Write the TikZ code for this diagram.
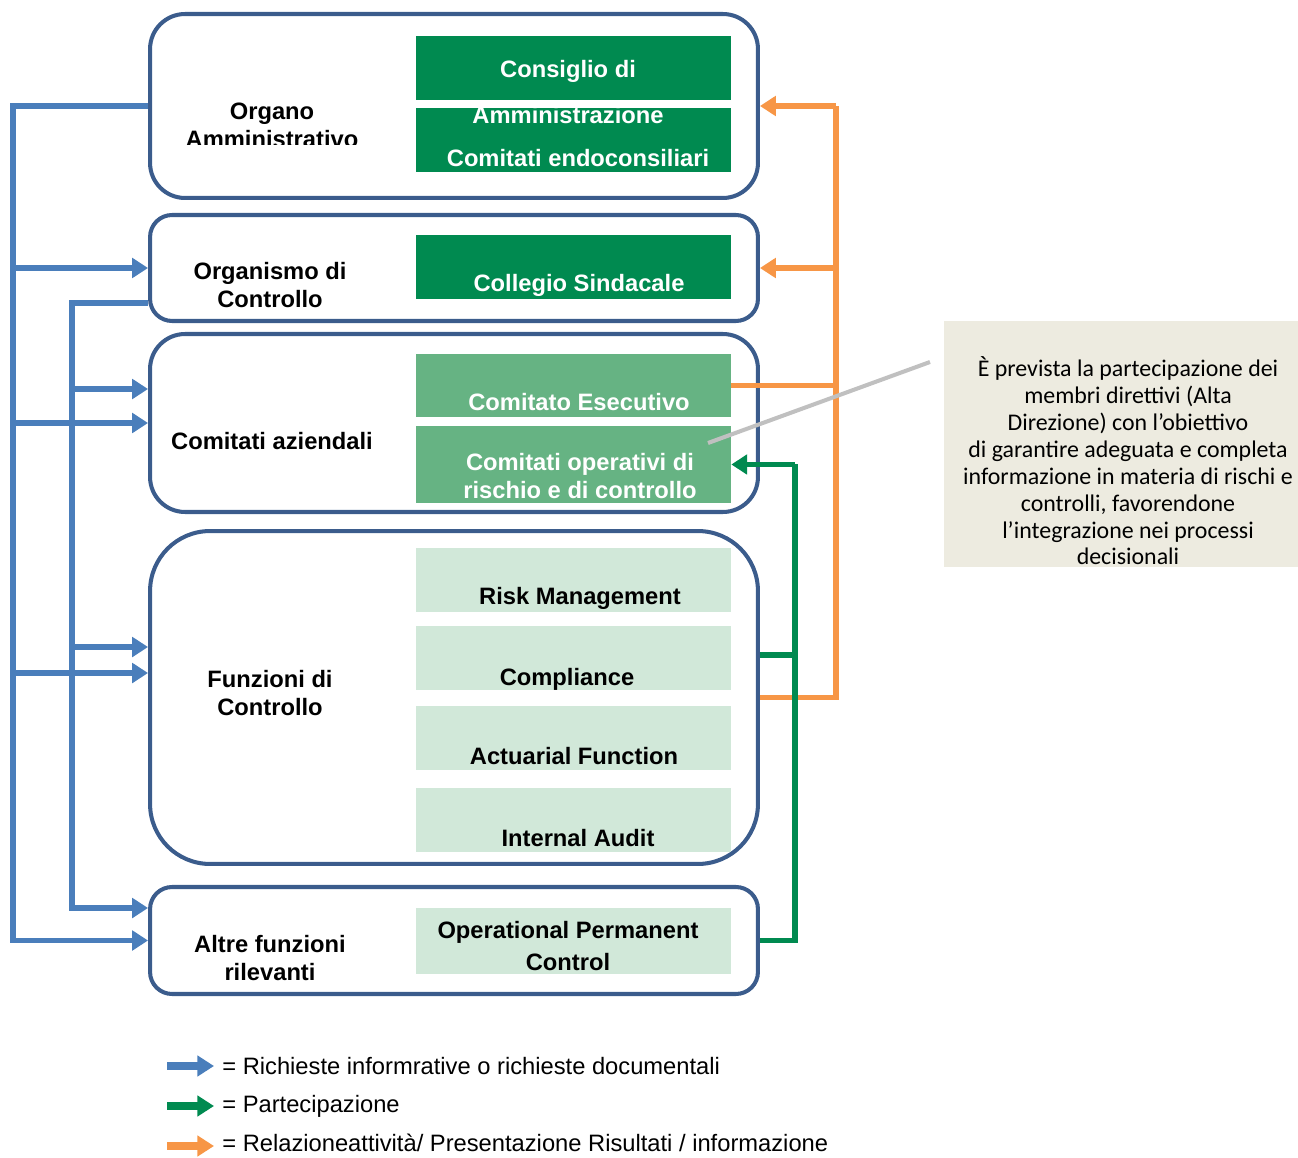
\documentclass[tikz,border=0pt]{standalone}
\usepackage{fontspec}
\setmainfont{Liberation Sans}
\newfontfamily\notefont{Carlito}
\usetikzlibrary{arrows.meta}

\definecolor{boxblue}{HTML}{3B5C8C}
\definecolor{arrblue}{HTML}{4A7EBB}
\definecolor{darkgr}{HTML}{008A50}
\definecolor{midgr}{HTML}{66B383}
\definecolor{lightgr}{HTML}{D1E8D9}
\definecolor{orng}{HTML}{F79646}
\definecolor{notebg}{HTML}{EDEBE0}
\definecolor{callgray}{HTML}{C0C0C0}

\begin{document}
\begin{tikzpicture}[x=0.02cm,y=-0.02cm,
  outer/.style={draw=boxblue,line width=2.3pt,minimum width=12.16cm,inner sep=0pt},
  inner/.style={minimum width=6.3cm,minimum height=1.28cm,inner sep=0pt},
  lbl/.style={font=\fontsize{13.5}{16}\selectfont\bfseries,align=center,inner sep=0pt},
  wlbl/.style={lbl,text=white},
  bline/.style={draw=arrblue,line width=3.2pt},
  oline/.style={draw=orng,line width=3.2pt},
  gline/.style={draw=darkgr,line width=3.2pt},
  tip/.style={-{Triangle[length=9pt,width=11pt]}},
  legtip/.style={line width=4.5pt,-{Triangle[length=9.5pt,width=11.5pt]}},
  legtext/.style={anchor=west,inner sep=0pt,font=\fontsize{13.5}{16}\selectfont}
]
\useasboundingbox (0,0) rectangle (1298,1158);

% outer boxes
\node[outer,minimum height=3.68cm,rounded corners=0.7cm] (oa) at (454,106) {};
\node[outer,minimum height=2.12cm,rounded corners=0.44cm] (os) at (454,268) {};
\node[outer,minimum height=3.56cm,rounded corners=0.7cm] (ca) at (454,423) {};
\node[outer,minimum height=6.66cm,rounded corners=1.2cm] (fc) at (454,697.5) {};
\node[outer,minimum height=2.14cm,rounded corners=0.44cm] (af) at (454,940.5) {};

% inner boxes
\node[inner,fill=darkgr] (cda) at (573.5,68) {};
\node[inner,fill=darkgr] (cend) at (573.5,140) {};
\node[inner,fill=darkgr] (cs) at (573.5,267) {};
\node[inner,fill=midgr,minimum height=1.26cm] (ce) at (573.5,385.5) {};
\node[inner,fill=midgr,minimum height=1.54cm] (cor) at (573.5,464.5) {};
\node[inner,fill=lightgr] (rm) at (573.5,580) {};
\node[inner,fill=lightgr] (comp) at (573.5,658) {};
\node[inner,fill=lightgr] (act) at (573.5,738) {};
\node[inner,fill=lightgr] (ia) at (573.5,820) {};
\node[inner,fill=lightgr,minimum height=1.32cm] (opc) at (573.5,941) {};

% labels
\begin{scope}
\clip (170,90) rectangle (400,145);
\node[lbl] (oalbl) at (272,125) {Organo\\Amministrativo};
\end{scope}
\node[lbl] (oslbl) at (270,285) {Organismo di\\Controllo};
\node[lbl] (calbl) at (272,441) {Comitati aziendali};
\node[lbl] (fclbl) at (270,693) {Funzioni di\\Controllo};
\node[lbl] (aflbl) at (270,958) {Altre funzioni\\rilevanti};

\node[wlbl] (t1) at (568,71) {Consiglio di};
\node[wlbl] (t2) at (568,115) {Amministrazione};
\node[wlbl] (t3) at (578,158) {Comitati endoconsiliari};
\node[wlbl] (t4) at (579,285) {Collegio Sindacale};
\node[wlbl] (t5) at (579,402) {Comitato Esecutivo};
\node[wlbl,font=\fontsize{13.5}{15.8}\selectfont\bfseries] (t6) at (580,476) {Comitati operativi di\\rischio e di controllo};
\node[lbl] (t7) at (580,598) {Risk Management};
\node[lbl] (t8) at (567,679) {Compliance};
\node[lbl] (t9) at (574,756) {Actuarial Function};
\node[lbl] (t10) at (578,838) {Internal Audit};
\node[lbl,font=\fontsize{13.5}{18}\selectfont\bfseries] (t11) at (568,946) {Operational Permanent\\Control};

% blue requests
\coordinate (tb) at (13,106);
\coordinate (ti) at (72,303);
\draw[bline,tip] (oa.west) -- (tb) |- (af.west);
\draw[bline,tip] (tb |- os.west) -- (os.west);
\draw[bline,tip] (tb |- ca.west) -- (ca.west);
\coordinate (b4) at ([yshift=0.49cm]fc.west);
\draw[bline,tip] (b4 -| tb) -- (b4);
\coordinate (b0) at ([yshift=-0.7cm]os.west);
\coordinate (b5) at ([yshift=0.65cm]af.west);
\draw[bline,tip] (b0) -- (b0 -| ti) |- (b5);
\coordinate (b3) at ([yshift=0.68cm]ca.west);
\draw[bline,tip] (b3 -| ti) -- (b3);
\coordinate (b6) at ([yshift=1.01cm]fc.west);
\draw[bline,tip] (b6 -| ti) -- (b6);

% orange reporting
\coordinate (ot) at (836,106);
\draw[oline] (fc.east) -| (ot);
\draw[oline,tip] (ot) -- (oa.east);
\draw[oline,tip] (ot |- os.east) -- (os.east);
\draw[oline] (ce.east) -- (ot |- ce.east);

% green participation
\coordinate (gt) at (795,464.5);
\draw[gline] (af.east) -| (gt);
\draw[gline,tip] (gt) -- (cor.east);
\coordinate (g2) at ([yshift=0.85cm]fc.east);
\draw[gline] (g2) -- (g2 -| gt);

% note
\node[fill=notebg,minimum width=7.08cm,minimum height=4.92cm,inner sep=0pt] (note) at (1121,444) {};
\node[align=center,inner sep=0pt,font=\notefont\fontsize{13.6}{15.3}\selectfont] (notetxt) at (1128,461)
  {È prevista la partecipazione dei\\membri direttivi (Alta\\Direzione) con l’obiettivo\\di garantire adeguata e completa\\informazione in materia di rischi e\\controlli, favorendone\\l’integrazione nei processi\\decisionali};
\coordinate (gs) at (930,362);
\coordinate (gp) at (708,443);
\draw[callgray,line width=2.3pt] (gs) -- (gp);

% legend
\node[legtext] (lg1) at (222,1066) {= Richieste informrative o richieste documentali};
\node[legtext] (lg2) at (222,1106) {= Partecipazione};
\node[legtext] (lg3) at (222,1143) {= Relazioneattività/ Presentazione Risultati / informazione};
\coordinate (la1) at (167,1066);
\coordinate (la2) at (167,1106);
\coordinate (la3) at (167,1146);
\draw[legtip,arrblue] (la1) -- ([xshift=-0.16cm]lg1.west);
\draw[legtip,darkgr] (la2) -- ([xshift=-0.16cm]lg2.west);
\draw[legtip,orng] (la3) -- ([xshift=-0.16cm]lg3.west |- la3);
\end{tikzpicture}
\end{document}
